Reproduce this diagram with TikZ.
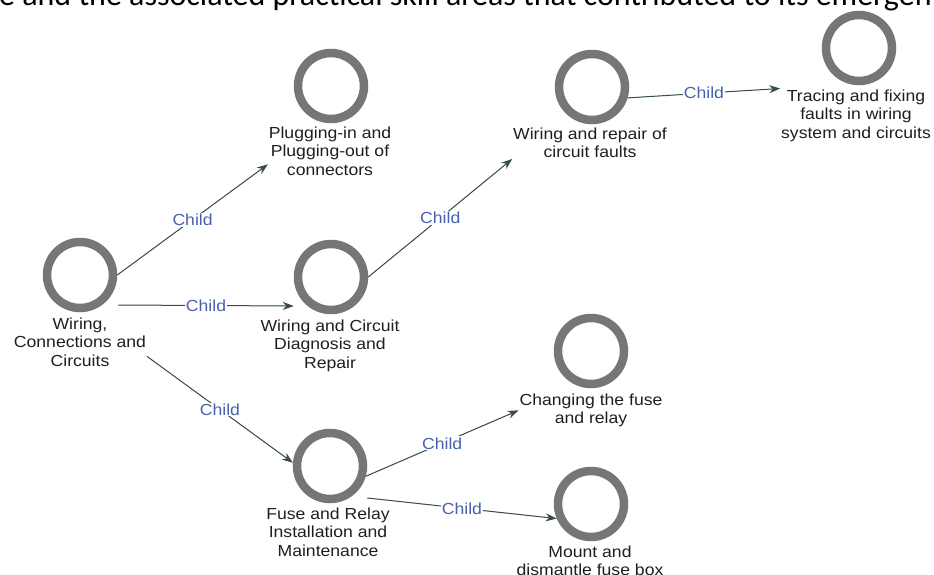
\documentclass[tikz,border=0pt]{standalone}
\usepackage{fontspec}
\setmainfont{Liberation Sans}[FakeStretch=1.1]
\newfontfamily\capfont{Carlito}
\usetikzlibrary{arrows.meta,calc}
\definecolor{ringgray}{RGB}{118,118,118}
\definecolor{edgegreen}{RGB}{55,78,72}
\definecolor{childblue}{RGB}{72,98,172}
\tikzset{
  ring/.style={circle,draw=ringgray,line width=8.5pt,minimum size=66pt,inner sep=0pt},
  conc/.style={anchor=north,inner sep=0.75pt,align=center,text=black!88,font=\fontsize{16}{18.8}\selectfont},
  child/.style={-{Stealth[length=11pt,width=8pt]},draw=edgegreen,fill=edgegreen,line width=1pt},
  childlbl/.style={midway,fill=white,inner sep=1pt,text=childblue,font=\fontsize{16}{18}\selectfont}
}
\begin{document}
\begin{tikzpicture}[x=1pt,y=1pt,yscale=-1,xscale=1]
        \useasboundingbox (0,0) rectangle (934,575);
        \clip (0,0) rectangle (934,575);
        
        % Text Node
        \node (caption) [anchor=base west,inner sep=0pt,font=\capfont\fontsize{32}{36}\selectfont] at (-1,6) {e and the associated practical skill areas that contributed to its emergen};
        
        %Shape: Circle
        \node (root) [ring] at (80,275) {};
        \node (plug) [ring] at (331,86) {};
        \node (diag) [ring] at (331,277) {};
        \node (wrf) [ring] at (592,87) {};
        \node (trace) [ring] at (859,48) {};
        \node (change) [ring] at (591,351) {};
        \node (fuse) [ring] at (330,466) {};
        \node (mount) [ring] at (591,504) {};
        
        % Text Node
        \node (roottxt) [conc] at (80,316.5) {Wiring,\\Connections and\\Circuits};
        \node (plugtxt) [conc] at (330,125.5) {Plugging-in and\\Plugging-out of\\connectors};
        \node (diagtxt) [conc] at (330,318.5) {Wiring and Circuit\\Diagnosis and\\Repair};
        \node (wrftxt) [conc] at (590,126.5) {Wiring and repair of\\circuit faults};
        \node (tracetxt) [conc] at (856,88.5) {Tracing and fixing\\faults in wiring\\system and circuits};
        \node (changetxt) [conc] at (591,392.5) {Changing the fuse\\and relay};
        \node (fusetxt) [conc] at (328,506.5) {Fuse and Relay\\Installation and\\Maintenance};
        \node (mounttxt) [conc] at (590,544.5) {Mount and\\dismantle fuse box};
        
        %Straight Lines
        \draw [child] (root.east) -- (plugtxt.192) node [childlbl] {Child};
        \draw [child] ($(root.east)+(1,30)$) -- ($(diag.west)+(0,29)$) node [childlbl] {Child};
        \draw [child] (roottxt.-12) -- (fuse.175) node [childlbl] {Child};
        \draw [child] (diag.east) -- (wrftxt.south west) node [childlbl] {Child};
        \draw [child] (wrf.-17) -- (tracetxt.north west) node [childlbl] {Child};
        \draw [child] (fuse.-16) -- (changetxt.west) node [childlbl] {Child};
        \draw [child] ($(fuse.east)+(0,32)$) -- (mount.203) node [childlbl] {Child};
        
\end{tikzpicture}
\end{document}
